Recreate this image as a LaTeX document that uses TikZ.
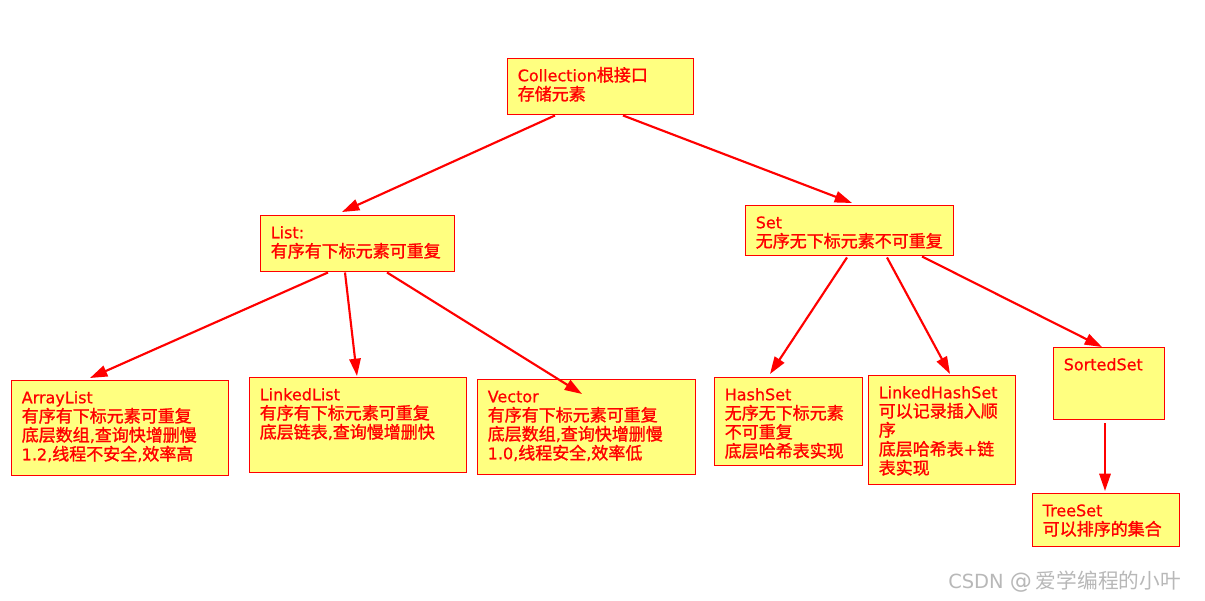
\documentclass[tikz,border=0pt]{standalone}
\usepackage{fontspec}
\setmainfont{DejaVu Sans}[FakeBold=0.6]
\newfontfamily\cjk{Noto Sans CJK SC}[Scale=1.0625, FakeBold=1.4]
\newfontfamily\cjkw{Noto Sans CJK SC}[Scale=1.0625]
\newfontfamily\latw{DejaVu Sans}
\usetikzlibrary{arrows.meta,calc}
\definecolor{boxfill}{RGB}{255,255,128}
\definecolor{boxred}{RGB}{255,0,0}
\newcommand\cn[1]{{\cjk #1}}
\newcommand\bxt[3]{\parbox[t][#2][t]{#1}{\raggedright\leftskip=7.5pt\relax\vspace*{4pt}\rule{0pt}{12.9pt}#3}}
\tikzset{
  cbox/.style={draw=boxred, fill=boxfill, line width=1.1pt, anchor=north west, inner sep=0pt,
    text=boxred, font=\fontsize{12pt}{14.25pt}\selectfont},
  conn/.style={draw=boxred, line width=1.6pt, -{Triangle[length=13pt,width=8.5pt]}}
}
\begin{document}
\begin{tikzpicture}[x=0.75pt,y=-0.75pt]
\fill[white] (0,0) rectangle (1205,600);
\useasboundingbox (0,0) rectangle (1205,600);

\node[cbox] (coll) at (507,58) {\bxt{139.5pt}{42pt}{Collection\cn{根接口}\\\cn{存储元素}}};
\node[cbox] (list) at (260,215) {\bxt{145.5pt}{42pt}{List:\\\cn{有序有下标元素可重复}}};
\node[cbox] (set) at (745,205) {\bxt{156pt}{37.5pt}{Set\\\cn{无序无下标元素不可重复}}};
\node[cbox] (arr) at (11,380) {\bxt{162.75pt}{71.25pt}{ArrayList\\\cn{有序有下标元素可重复}\\\cn{底层数组},\cn{查询快增删慢}\\1.2,\cn{线程不安全},\cn{效率高}}};
\node[cbox] (lnk) at (249,377) {\bxt{162.75pt}{71.25pt}{LinkedList\\\cn{有序有下标元素可重复}\\\cn{底层链表},\cn{查询慢增删快}}};
\node[cbox] (vec) at (477,379) {\bxt{163.5pt}{71.25pt}{Vector\\\cn{有序有下标元素可重复}\\\cn{底层数组},\cn{查询快增删慢}\\1.0,\cn{线程安全},\cn{效率低}}};
\node[cbox] (hs) at (714,377) {\bxt{111pt}{66pt}{HashSet\\\cn{无序无下标元素}\\\cn{不可重复}\\\cn{底层哈希表实现}}};
\node[cbox] (lhs) at (868,375) {\bxt{110.25pt}{81.75pt}{LinkedHashSet\\\cn{可以记录插入顺}\\\cn{序}\\\cn{底层哈希表}+\cn{链}\\\cn{表实现}}};
\node[cbox] (sorted) at (1053,347) {\bxt{83.25pt}{54pt}{SortedSet}};
\node[cbox] (tree) at (1032,493) {\bxt{110.25pt}{39.75pt}{TreeSet\\\cn{可以排序的集合}}};

\draw[conn] ($(coll.south west)+(48,0)$) -- ($(list.north west)+(82,-3)$);
\draw[conn] ($(coll.south west)+(116,0)$) -- ($(set.north west)+(107,-2)$);
\draw[conn] ($(list.south west)+(68,0)$) -- ($(arr.north west)+(79,-2)$);
\draw[conn] ($(list.south west)+(85,0)$) -- ($(lnk.north west)+(108,-1)$);
\draw[conn] ($(list.south west)+(127,0)$) -- ($(vec.north west)+(105,15)$);
\draw[conn] ($(set.south west)+(102,1)$) -- ($(hs.north west)+(56,-3)$);
\draw[conn] ($(set.south west)+(142,1)$) -- ($(lhs.north west)+(82,-1)$);
\draw[conn] ($(set.south west)+(177,0)$) -- ($(sorted.north west)+(49,0)$);
\draw[conn] ($(sorted.south west)+(52,3)$) -- ($(tree.north west)+(73,-2)$);

\node[anchor=base west, inner sep=0pt, text=black!28, font=\fontsize{14.6pt}{14.6pt}\selectfont] (wm) at (948,588) {\latw CSDN {\fontsize{16.5pt}{16.5pt}\selectfont @}\hspace{3pt}{\cjkw 爱学编程的小叶}};
\end{tikzpicture}
\end{document}
